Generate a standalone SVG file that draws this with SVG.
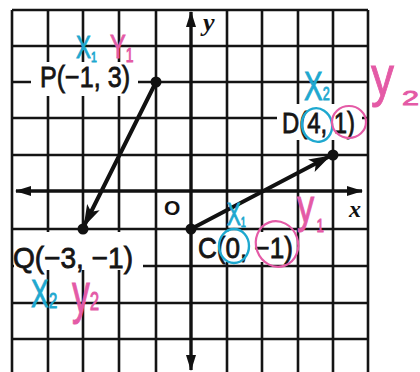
<svg xmlns="http://www.w3.org/2000/svg" width="420" height="372" viewBox="0 0 420 372">
<defs>
<style>
.grid line{stroke:#141414;stroke-width:2.6}
.axis{stroke:#111;stroke-width:3.4;fill:none}
.mask{fill:#fff}
.lbl{font-family:"Liberation Sans",Arial,sans-serif;font-size:29px;fill:#151515;stroke:#151515;stroke-width:0.8}
.seg{stroke:#111;stroke-width:4;fill:none;stroke-linecap:round}
.dot{fill:#111}
.cy{fill:#1ea8cf;stroke:#1ea8cf;stroke-width:0.9;font-family:"Liberation Sans",Arial,sans-serif}
.pk{fill:#e45aa6;stroke:#e45aa6;stroke-width:0.9;font-family:"Liberation Sans",Arial,sans-serif}
.cyo{fill:none;stroke:#1ea8cf;stroke-width:2.4}
.pko{fill:none;stroke:#e45aa6;stroke-width:2.2}
</style>
<marker id="ah" viewBox="0 0 22 14" refX="21" refY="7" markerWidth="22" markerHeight="14" markerUnits="userSpaceOnUse" orient="auto"><path d="M0,0 L22,7 L0,14 L5,7 Z" fill="#111"/></marker>
<marker id="axh" viewBox="0 0 16 10" refX="15" refY="5" markerWidth="16" markerHeight="10" markerUnits="userSpaceOnUse" orient="auto-start-reverse"><path d="M0,0 L16,5 L0,10 Z" fill="#111"/></marker>
</defs>
<rect x="0" y="0" width="420" height="372" fill="#fff"/>
<g id="grid" class="grid">
<line x1="12" y1="10" x2="368" y2="10"/>
<line x1="12" y1="46" x2="368" y2="46"/>
<line x1="12" y1="82" x2="368" y2="82"/>
<line x1="12" y1="118" x2="368" y2="118"/>
<line x1="12" y1="155" x2="368" y2="155"/>
<line x1="12" y1="229" x2="368" y2="229"/>
<line x1="12" y1="266" x2="368" y2="266"/>
<line x1="12" y1="303" x2="368" y2="303"/>
<line x1="12" y1="339" x2="368" y2="339"/>
<line x1="12" y1="10" x2="12" y2="372"/>
<line x1="48" y1="10" x2="48" y2="372"/>
<line x1="83" y1="10" x2="83" y2="372"/>
<line x1="119" y1="10" x2="119" y2="372"/>
<line x1="156" y1="10" x2="156" y2="372"/>
<line x1="227" y1="10" x2="227" y2="372"/>
<line x1="262" y1="10" x2="262" y2="372"/>
<line x1="298" y1="10" x2="298" y2="372"/>
<line x1="333" y1="10" x2="333" y2="372"/>
<line x1="368" y1="10" x2="368" y2="372"/>
</g>
<g id="masks">
<rect class="mask" x="31" y="62" width="107" height="34"/>
<rect class="mask" x="277" y="104" width="85" height="36"/>
<rect class="mask" x="14" y="232" width="129" height="38"/>
<rect class="mask" x="196" y="232" width="100" height="30"/>
</g>
<g id="axes">
<line class="axis" x1="16" y1="191" x2="362" y2="191" marker-start="url(#axh)" marker-end="url(#axh)"/>
<line class="axis" x1="191" y1="12" x2="191" y2="370" marker-start="url(#axh)" marker-end="url(#axh)"/>
<text x="203" y="31" style="font-family:'Liberation Serif',serif;font-weight:bold;font-style:italic;font-size:26px;fill:#111">y</text>
<text x="349" y="217" style="font-family:'Liberation Serif',serif;font-weight:bold;font-style:italic;font-size:24px;fill:#111">x</text>
<text x="164" y="215" style="font-family:'Liberation Sans',sans-serif;font-weight:bold;font-size:21px;fill:#111">O</text>
</g>
<g id="connectors">
<line class="seg" x1="156" y1="82" x2="84" y2="226" marker-end="url(#ah)"/>
<line class="seg" x1="191" y1="229" x2="330" y2="156" marker-end="url(#ah)"/>
</g>
<g id="node-P">
<circle class="dot" cx="156" cy="82" r="5.5"/>
<text class="lbl" x="40" y="87" textLength="90" lengthAdjust="spacingAndGlyphs">P(−1, 3)</text>
</g>
<g id="node-Q">
<circle class="dot" cx="83" cy="229" r="5.5"/>
<text class="lbl" x="13" y="268" textLength="120" lengthAdjust="spacingAndGlyphs">Q(−3, −1)</text>
</g>
<g id="node-C">
<circle class="dot" cx="191" cy="229" r="5.5"/>
<text class="lbl" x="198" y="258" textLength="95" lengthAdjust="spacingAndGlyphs">C(0, −1)</text>
</g>
<g id="node-D">
<circle class="dot" cx="333" cy="155" r="5.5"/>
<text class="lbl" x="282" y="133" textLength="73" lengthAdjust="spacingAndGlyphs">D(4, 1)</text>
</g>
<g id="annotations">
<text class="cy" transform="translate(76,58) scale(0.7,1)" font-size="32">X<tspan font-size="15" dy="4">1</tspan></text>
<text class="pk" transform="translate(110,58) scale(0.7,1)" font-size="34">Y<tspan font-size="20" dy="4">1</tspan></text>
<text class="cy" transform="translate(304,100) scale(0.7,1)" font-size="40">X<tspan font-size="18">2</tspan></text>
<text class="pk" x="371" y="95" font-size="56" textLength="23" lengthAdjust="spacingAndGlyphs">y</text>
<text class="pk" x="402" y="105" font-size="21" textLength="17" lengthAdjust="spacingAndGlyphs">2</text>
<ellipse class="cyo" cx="317" cy="125" rx="15" ry="17" transform="rotate(-15 317 125)"/>
<ellipse class="pko" cx="349" cy="122" rx="17" ry="16"/>
<text class="cy" transform="translate(227,225) scale(0.65,1)" font-size="32">X<tspan font-size="14" dy="2">1</tspan></text>
<ellipse class="cyo" cx="234" cy="246" rx="15" ry="17"/>
<ellipse class="pko" cx="277" cy="244" rx="21" ry="23" transform="rotate(-20 277 244)"/>
<text class="pk" transform="translate(297,222) scale(0.75,1)" font-size="46">y<tspan font-size="18" dx="3" dy="10">1</tspan></text>
<text class="cy" transform="translate(31,307) scale(0.7,1)" font-size="38">X<tspan font-size="22" dy="1">2</tspan></text>
<text class="pk" transform="translate(72,312) scale(0.65,1)" font-size="55">y<tspan font-size="26" dy="-2">2</tspan></text>
</g>
</svg>
